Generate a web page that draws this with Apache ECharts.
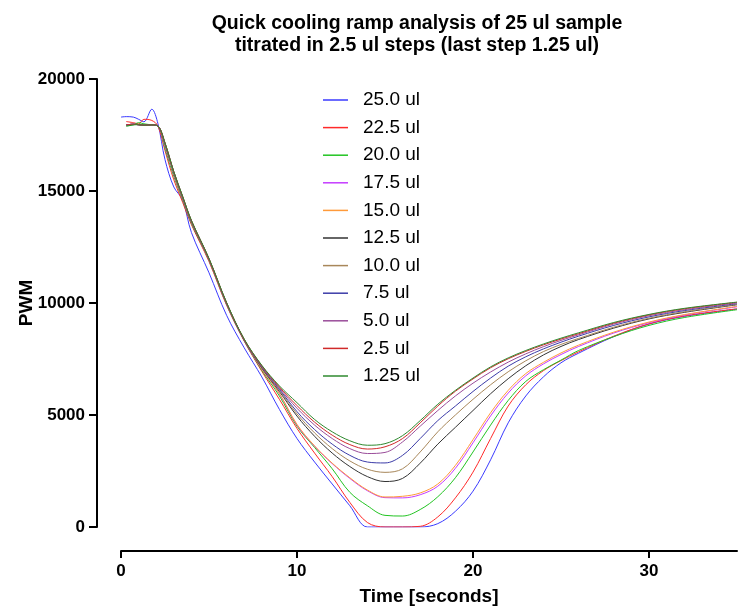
<!DOCTYPE html>
<html>
<head>
<meta charset="utf-8">
<script src="https://cdn.jsdelivr.net/npm/echarts@6/dist/echarts.min.js"></script>
<style>
  html, body { margin: 0; padding: 0; background: #fff; }
  #chart { width: 742px; height: 606px; }
</style>
</head>
<body>
<div id="chart"></div>
<script>
const seriesNames = ['25.0 ul', '22.5 ul', '20.0 ul', '17.5 ul', '15.0 ul', '12.5 ul', '10.0 ul', '7.5 ul', '5.0 ul', '2.5 ul', '1.25 ul'];
const seriesColors = ['#3a3aff', '#ff2a2a', '#22c422', '#c53cff', '#ff9a3a', '#333333', '#a8875a', '#3c3ca8', '#9a4d9a', '#d02a2a', '#2f8a2f'];
const xTicks = [0, 10, 20, 30];

const times = [0, 0.3, 0.7, 1, 1.3, 1.75, 2.1, 2.5, 3, 3.5, 4, 5, 6, 7, 8, 9, 10, 11, 12, 13, 14, 15, 16, 17, 18, 19, 20, 21, 22, 23, 24, 25, 26, 28, 30, 32, 35];

const ul25 = [18300, 18320, 18300, 18200, 18090, 18650, 18000, 16400, 15180, 14600, 13150, 11350, 9450, 8000, 6700, 5250, 3950, 2900, 1920, 950, 0, 0, 0, 0, 150, 700, 1600, 3000, 4650, 5850, 6700, 7330, 7760, 8500, 9060, 9400, 9730];
const ul22_5 = [null, 18100, 18050, 18000, 18200, 18150, 17900, 16800, 15500, 14500, 13500, 11850, 9900, 8300, 6950, 5700, 4400, 3300, 2250, 1100, 200, 0, 0, 30, 450, 1300, 2450, 3950, 5400, 6350, 6980, 7430, 7820, 8520, 9070, 9420, 9740];
const ul20 = [null, 17900, 17950, 18050, 18000, 17950, 17900, 16900, 15650, 14600, 13550, 11900, 9930, 8320, 7000, 5850, 4500, 3550, 2600, 1550, 950, 520, 490, 780, 1350, 2200, 3350, 4550, 5650, 6500, 7020, 7450, 7880, 8500, 9000, 9350, 9700];
const ul17_5 = [null, 17950, 17980, 17950, 17930, 17950, 17900, 17000, 15750, 14650, 13600, 11920, 9950, 8330, 7050, 5950, 4550, 3600, 2830, 2170, 1620, 1310, 1300, 1440, 1820, 2620, 3760, 4960, 5980, 6750, 7280, 7700, 8060, 8660, 9120, 9460, 9830];
const ul15 = [null, 17950, 17980, 17960, 17940, 17950, 17900, 17050, 15780, 14680, 13620, 11930, 9960, 8340, 7060, 5960, 4580, 3620, 2850, 2200, 1650, 1340, 1370, 1520, 1920, 2750, 3900, 5100, 6100, 6850, 7350, 7770, 8120, 8700, 9150, 9480, 9850];
const ul12_5 = [null, 17950, 17980, 17960, 17940, 17950, 17900, 17080, 15800, 14700, 13630, 11940, 9970, 8340, 7100, 6050, 4950, 4050, 3300, 2700, 2250, 2030, 2170, 2850, 3700, 4450, 5200, 5950, 6620, 7200, 7680, 8060, 8370, 8880, 9290, 9580, 9920];
const ul10 = [null, 17950, 17980, 17960, 17940, 17950, 17900, 17100, 15820, 14720, 13650, 11950, 9980, 8350, 7130, 6100, 5050, 4200, 3500, 2950, 2580, 2440, 2600, 3350, 4250, 5000, 5700, 6350, 6930, 7420, 7830, 8150, 8420, 8920, 9320, 9610, 9940];
const ul7_5 = [null, 17950, 17980, 17960, 17940, 17950, 17900, 17120, 15840, 14740, 13660, 11960, 9990, 8360, 7150, 6150, 5150, 4350, 3700, 3200, 2900, 2860, 3200, 3950, 4750, 5400, 6050, 6650, 7180, 7600, 7950, 8250, 8520, 9000, 9380, 9660, 9970];
const ul5 = [null, 17950, 17980, 17960, 17940, 17950, 17900, 17140, 15850, 14750, 13670, 11970, 10000, 8370, 7180, 6200, 5300, 4550, 3950, 3500, 3280, 3330, 3800, 4500, 5200, 5850, 6420, 6920, 7360, 7730, 8050, 8330, 8580, 9060, 9430, 9700, 10000];
const ul2_5 = [null, 17950, 17980, 17960, 17940, 17950, 17900, 17150, 15860, 14760, 13680, 11980, 10010, 8380, 7200, 6250, 5420, 4680, 4100, 3680, 3480, 3580, 3950, 4650, 5400, 6060, 6610, 7110, 7510, 7840, 8130, 8390, 8630, 9100, 9470, 9740, 10030];
const ul1_25 = [null, 17900, 17950, 17960, 17940, 17950, 17900, 17150, 15870, 14770, 13690, 11990, 10020, 8390, 7220, 6300, 5550, 4800, 4250, 3850, 3650, 3720, 4080, 4750, 5480, 6100, 6650, 7150, 7550, 7880, 8170, 8430, 8670, 9130, 9490, 9760, 10040];

const seriesValues = [ul25, ul22_5, ul20, ul17_5, ul15, ul12_5, ul10, ul7_5, ul5, ul2_5, ul1_25];

const font = 'Liberation Sans, Arial, sans-serif';
const chart = echarts.init(document.getElementById('chart'));

const series = seriesNames.map((name, i) => ({
  name: name,
  type: 'line',
  data: times.map((t, j) => [t, seriesValues[i][j]]),
  smooth: 0.35,
  showSymbol: false,
  symbol: 'none',
  lineStyle: { width: 1 },
  emphasis: { disabled: true }
}));

const option = {
  animation: false,
  backgroundColor: '#fff',
  color: seriesColors,
  title: {
    text: 'Quick cooling ramp analysis of 25 ul sample\ntitrated in 2.5 ul steps (last step 1.25 ul)',
    left: 412,
    top: 8,
    textAlign: 'center',
    textStyle: {
      fontFamily: font,
      fontSize: 19.5,
      fontWeight: 'bold',
      lineHeight: 22,
      color: '#000'
    }
  },
  legend: {
    orient: 'vertical',
    left: 323,
    top: 90,
    padding: 0,
    itemGap: 7.6,
    itemWidth: 25,
    itemHeight: 1.5,
    icon: 'rect',
    data: seriesNames,
    textStyle: {
      fontFamily: font,
      fontSize: 19,
      lineHeight: 20,
      color: '#000',
      padding: [0, 0, 0, 10]
    }
  },
  grid: { left: 121, right: 5, top: 79, bottom: 79, outerBoundsMode: 'none' },
  xAxis: {
    type: 'value',
    min: 0,
    max: 35,
    interval: 10,
    offset: 24,
    name: 'Time [seconds]',
    nameLocation: 'middle',
    nameGap: 36,
    nameMoveOverlap: false,
    nameTextStyle: { fontFamily: font, fontSize: 19, fontWeight: 'bold', color: '#000' },
    axisLine: { show: true, onZero: false, lineStyle: { color: '#000', width: 2 } },
    axisTick: { show: true, length: 7, customValues: xTicks, lineStyle: { color: '#000', width: 2 } },
    axisLabel: { customValues: xTicks, fontFamily: font, fontSize: 17, fontWeight: 'bold', color: '#000', margin: 12 },
    splitLine: { show: false }
  },
  yAxis: {
    type: 'value',
    min: 0,
    max: 20000,
    interval: 5000,
    offset: 24,
    name: 'PWM',
    nameLocation: 'middle',
    nameGap: 61,
    nameMoveOverlap: false,
    nameTextStyle: { fontFamily: font, fontSize: 19, fontWeight: 'bold', color: '#000' },
    axisLine: { show: true, onZero: false, lineStyle: { color: '#000', width: 2 } },
    axisTick: { show: true, length: 8, lineStyle: { color: '#000', width: 2 } },
    axisLabel: {
      fontFamily: font, fontSize: 17, fontWeight: 'bold', color: '#000', margin: 12,
      formatter: (v) => String(v)
    },
    splitLine: { show: false }
  },
  series: series
};

chart.setOption(option);
</script>
</body>
</html>
